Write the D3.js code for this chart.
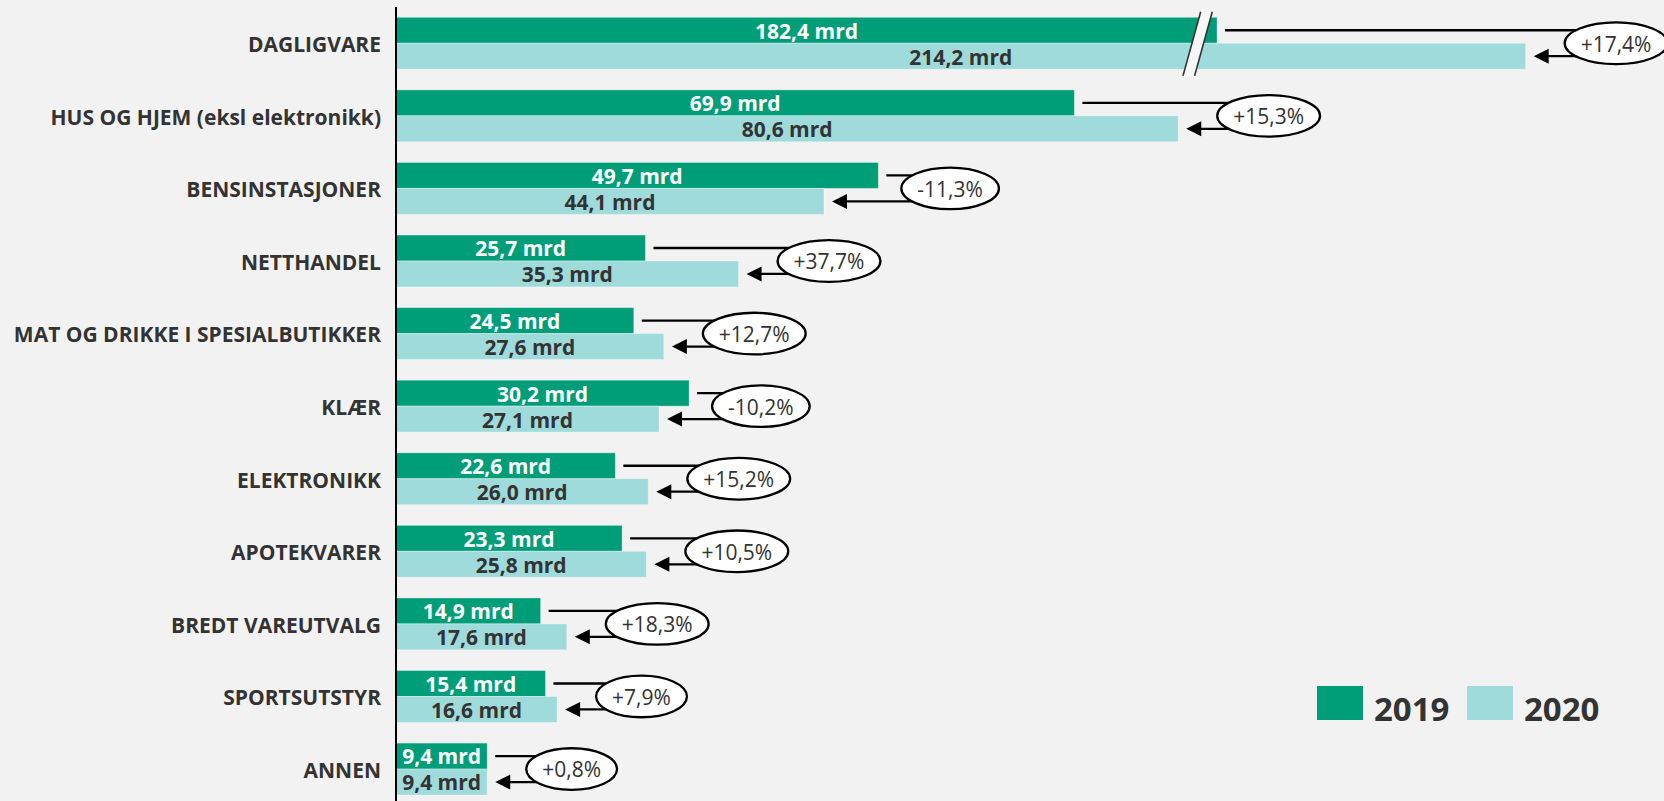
<!DOCTYPE html>
<html>
<head>
<meta charset="utf-8">
<script src="https://cdn.jsdelivr.net/npm/d3@7"></script>
<style>
  html, body { margin: 0; padding: 0; background: #f2f2f2; }
  svg { display: block; font-family: "Open Sans", sans-serif; }
</style>
</head>
<body>
<svg id="chart"></svg>
<script>
const categories = [
  "DAGLIGVARE",
  "HUS OG HJEM (eksl elektronikk)",
  "BENSINSTASJONER",
  "NETTHANDEL",
  "MAT OG DRIKKE I SPESIALBUTIKKER",
  "KLÆR",
  "ELEKTRONIKK",
  "APOTEKVARER",
  "BREDT VAREUTVALG",
  "SPORTSUTSTYR",
  "ANNEN"
];
const values2019 = [182.4, 69.9, 49.7, 25.7, 24.5, 30.2, 22.6, 23.3, 14.9, 15.4, 9.4];
const values2020 = [214.2, 80.6, 44.1, 35.3, 27.6, 27.1, 26.0, 25.8, 17.6, 16.6, 9.4];
const changes = [17.4, 15.3, -11.3, 37.7, 12.7, -10.2, 15.2, 10.5, 18.3, 7.9, 0.8];
const years = ["2019", "2020"];
const colors = ["#009e78", "#9fdbda"];

// broken value axis: values between breakLow and breakHigh are cut out
const breakLow = 82.6;
const breakHigh = 180.4;
const xMax = 240;

const width = 1664;
const height = 801;
const left = 396;
const pxPerUnit = 9.705;
const textColor = "#333333";

const nb = d3.formatLocale({ decimal: ",", thousands: " ", grouping: [3], currency: ["", ""], minus: "-" });
const fmtVal = nb.format(".1f");
const fmtPct = nb.format("+.1f");

const svg = d3.select("#chart").attr("width", width).attr("height", height);

const xBreak = left + breakLow * pxPerUnit;
const x = d3.scaleLinear()
  .domain([0, breakLow, breakHigh, xMax])
  .range([left, xBreak, xBreak, xBreak + (xMax - breakHigh) * pxPerUnit]);

const y = d3.scaleBand()
  .domain(categories)
  .range([17.3, 795])
  .paddingInner(0.285)
  .paddingOuter(0);

const ySub = d3.scaleBand()
  .domain(years)
  .range([0, y.bandwidth()]);

const rows = categories.map((c, i) => ({
  cat: c,
  vals: [values2019[i], values2020[i]],
  change: changes[i]
}));

// bars
const groups = svg.append("g")
  .selectAll("g")
  .data(rows)
  .join("g")
  .attr("transform", (d) => `translate(0,${y(d.cat)})`);

groups.selectAll("rect")
  .data((d) => d.vals.map((v, j) => ({ v: v, year: years[j], j: j })))
  .join("rect")
  .attr("x", x(0))
  .attr("y", (d) => ySub(d.year))
  .attr("width", (d) => x(d.v) - x(0))
  .attr("height", ySub.bandwidth())
  .attr("fill", (d) => colors[d.j])
  .attr("stroke", "rgba(255,255,255,0.35)")
  .attr("stroke-width", 1);

// axis break on the first row
const bTop = y(categories[0]) - 5.6;
const bBot = y(categories[0]) + y.bandwidth() + 6.7;
const slant = 8.85;
const half = 5.8;
const brk = svg.append("g");
brk.append("path")
  .attr("d", `M${xBreak - half + slant},${bTop} L${xBreak + half + slant},${bTop} L${xBreak + half - slant},${bBot} L${xBreak - half - slant},${bBot} Z`)
  .attr("fill", "#f7f7f7");
[-half, half].forEach((o) => {
  brk.append("line")
    .attr("x1", xBreak + o + slant).attr("y1", bTop)
    .attr("x2", xBreak + o - slant).attr("y2", bBot)
    .attr("stroke", "#333")
    .attr("stroke-width", 1.6);
});

// value labels inside bars
groups.selectAll("text.val")
  .data((d) => d.vals.map((v, j) => ({ v: v, year: years[j], j: j })))
  .join("text")
  .attr("class", "val")
  .attr("x", (d) => (x(0) + x(d.v)) / 2)
  .attr("y", (d) => ySub(d.year) + ySub.bandwidth() / 2)
  .attr("dy", "0.4em")
  .attr("text-anchor", "middle")
  .attr("font-size", 21)
  .attr("font-weight", "bold")
  .attr("fill", (d) => (d.j === 0 ? "#ffffff" : textColor))
  .text((d) => fmtVal(d.v) + " mrd");

// change annotations: line from 2019, arrow to 2020, ellipse with percent
groups.each(function (d) {
  const g = d3.select(this);
  const e19 = x(d.vals[0]);
  const e20 = x(d.vals[1]);
  const y19 = ySub("2019") + ySub.bandwidth() / 2;
  const y20 = ySub("2020") + ySub.bandwidth() / 2;
  const cy = y.bandwidth() / 2;
  const ellLeft = Math.max(e19 + 23, e20 + 39);

  const lineG = g.append("g");
  const ell = g.append("ellipse")
    .attr("fill", "#ffffff")
    .attr("stroke", "#000")
    .attr("stroke-width", 2.3);
  const label = g.append("text")
    .attr("y", cy)
    .attr("dy", "0.4em")
    .attr("text-anchor", "middle")
    .attr("font-size", 21)
    .attr("fill", textColor)
    .text(fmtPct(d.change) + "%");

  const tw = label.node().getComputedTextLength();
  const rx = tw / 2 + 16;
  const cx = ellLeft + rx;
  label.attr("x", cx);
  ell.attr("cx", cx).attr("cy", cy).attr("rx", rx).attr("ry", 20.8);

  lineG.append("line")
    .attr("x1", e19 + 8).attr("y1", y19)
    .attr("x2", cx).attr("y2", y19)
    .attr("stroke", "#000")
    .attr("stroke-width", 2.3);

  const tip = e20 + 8;
  lineG.append("line")
    .attr("x1", cx).attr("y1", y20)
    .attr("x2", tip + 10).attr("y2", y20)
    .attr("stroke", "#000")
    .attr("stroke-width", 2.3);
  lineG.append("path")
    .attr("d", `M${tip},${y20} L${tip + 15},${y20 - 7.5} L${tip + 15},${y20 + 7.5} Z`)
    .attr("fill", "#000");
});

// category axis
svg.append("g")
  .attr("transform", `translate(${x(0)},0)`)
  .call(d3.axisLeft(y).tickSize(0).tickPadding(15))
  .call((g) => g.select(".domain").remove())
  .call((g) => g.selectAll("text")
    .attr("dy", "0.42em")
    .attr("font-size", 21)
    .attr("font-weight", "bold")
    .attr("font-family", "Open Sans, sans-serif")
    .attr("fill", textColor));

svg.append("line")
  .attr("x1", x(0)).attr("x2", x(0))
  .attr("y1", 7).attr("y2", height)
  .attr("stroke", "#000")
  .attr("stroke-width", 2);

// legend
const legend = svg.append("g")
  .selectAll("g")
  .data(years)
  .join("g")
  .attr("transform", (d, i) => `translate(${1317 + i * 150},686)`);

legend.append("rect")
  .attr("width", 46)
  .attr("height", 34)
  .attr("fill", (d, i) => colors[i]);

legend.append("text")
  .attr("x", 57)
  .attr("y", 34.7)
  .attr("font-size", 33)
  .attr("font-weight", "bold")
  .attr("fill", textColor)
  .text((d) => d);
</script>
</body>
</html>
